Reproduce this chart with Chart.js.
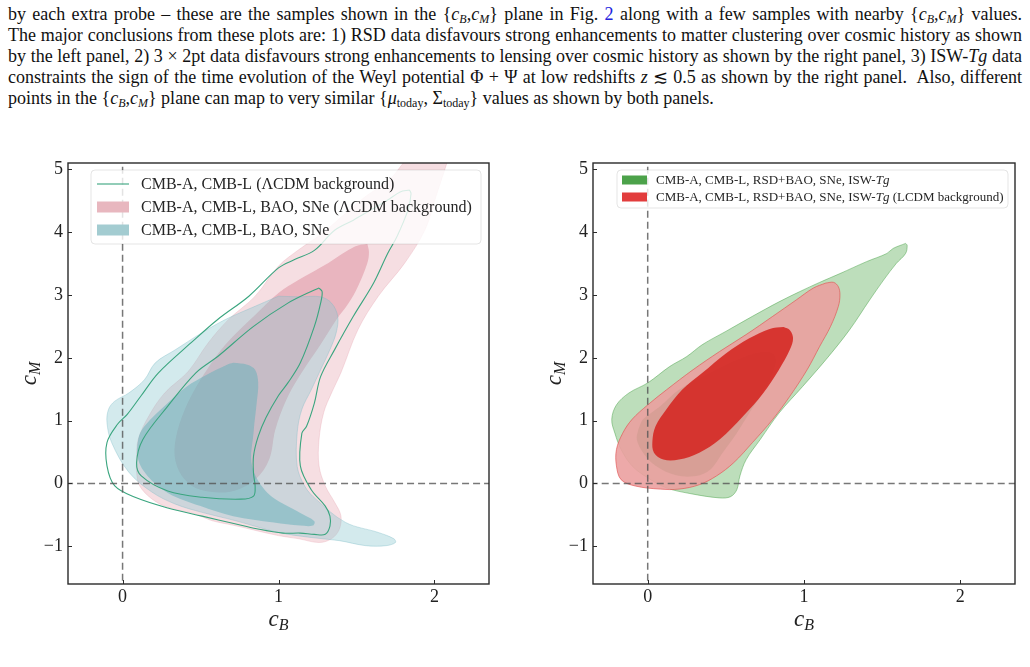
<!DOCTYPE html>
<html>
<head>
<meta charset="utf-8">
<script src="https://cdn.jsdelivr.net/npm/chart.js@4.4.0/dist/chart.umd.min.js"></script>
<style>
  body { margin: 0; width: 1030px; height: 667px; overflow: hidden; position: relative; background: #fff; }
  #para { position: absolute; left: 8px; top: 4px; width: 1014px; font-family: "Liberation Serif", serif; font-size: 18px; line-height: 21px; color: #111; }
  #para div { text-align: justify; text-align-last: justify; white-space: nowrap; }
  #para div.last { text-align-last: left; }
  #para sub { font-size: 12px; vertical-align: -3px; line-height: 0; }
  #para .ref { color: #2222dd; }
  .panel { position: absolute; top: 140px; height: 520px; }
  .panel canvas { display: block; }
</style>
</head>
<body>
<div id="para">
  <div>by each extra probe – these are the samples shown in the {<i>c<sub>B</sub></i>,<i>c<sub>M</sub></i>} plane in Fig. <span class="ref">2</span> along with a few samples with nearby {<i>c<sub>B</sub></i>,<i>c<sub>M</sub></i>} values.</div>
  <div>The major conclusions from these plots are: 1) RSD data disfavours strong enhancements to matter clustering over cosmic history as shown</div>
  <div>by the left panel, 2) 3 × 2pt data disfavours strong enhancements to lensing over cosmic history as shown by the right panel, 3) ISW-<i>Tg</i> data</div>
  <div>constraints the sign of the time evolution of the Weyl potential Φ + Ψ at low redshifts <i>z</i> ≲ 0.5 as shown by the right panel.&nbsp; Also, different</div>
  <div class="last">points in the {<i>c<sub>B</sub></i>,<i>c<sub>M</sub></i>} plane can map to very similar {<i>μ</i><sub>today</sub>, Σ<sub>today</sub>} values as shown by both panels.</div>
</div>
<div class="panel" style="left:0;width:515px"><canvas id="left" width="515" height="520"></canvas></div>
<div class="panel" style="left:520px;width:510px"><canvas id="right" width="510" height="520"></canvas></div>
<script>
// axis ranges and ticks (same for both panels)
const xRange = [-0.35, 2.35];
const yRange = [-1.6, 5.1];
const xTicks = [0, 1, 2];
const yTicks = [-1, 0, 1, 2, 3, 4, 5];
const refX = [0];   // dashed vertical guide
const refY = [0];   // dashed horizontal guide

// ---- left panel contours, [cB, cM] ----
const pinkOuter = [[2.03,5.8],[2.17,5.8],[2.08,5.10],[2.01,4.57],[1.94,4.04],[1.81,3.51],[1.64,2.98],[1.51,2.45],[1.40,1.76],[1.34,1.44],[1.29,1.13],[1.26,0.70],[1.26,0.28],[1.30,-0.04],[1.36,-0.30],[1.40,-0.51],[1.39,-0.73],[1.34,-0.88],[1.26,-0.94],[1.13,-0.88],[1.00,-0.83],[0.72,-0.67],[0.57,-0.59],[0.47,-0.49],[0.29,-0.38],[0.19,-0.25],[0.11,-0.04],[0.09,0.18],[0.09,0.39],[0.10,0.70],[0.17,1.08],[0.27,1.44],[0.42,1.78],[0.55,2.24],[0.68,2.61],[0.85,2.98],[1.00,3.46],[1.13,3.72],[1.28,3.98],[1.43,4.30],[1.56,4.57],[1.71,4.83],[1.80,5.10],[2.03,5.8]];
const pinkInner = [[1.57,3.81],[1.58,3.68],[1.57,3.51],[1.51,3.14],[1.45,2.87],[1.37,2.60],[1.27,2.21],[1.14,1.73],[1.05,1.33],[0.98,0.86],[0.94,0.38],[0.85,0.06],[0.69,-0.13],[0.50,-0.10],[0.40,0.06],[0.34,0.35],[0.34,0.70],[0.40,1.18],[0.50,1.65],[0.66,2.21],[0.85,2.68],[1.00,3.03],[1.13,3.24],[1.32,3.51],[1.49,3.77],[1.57,3.81]];
const tealOuter = [[1.00,2.98],[1.14,2.97],[1.27,2.97],[1.34,2.87],[1.38,2.66],[1.37,2.40],[1.33,2.13],[1.27,1.81],[1.21,1.49],[1.15,1.18],[1.12,0.81],[1.12,0.27],[1.17,-0.05],[1.24,-0.25],[1.43,-0.62],[1.64,-0.78],[1.74,-0.88],[1.75,-0.94],[1.69,-0.99],[1.56,-0.99],[1.39,-0.91],[1.21,-0.86],[1.00,-0.78],[0.72,-0.59],[0.51,-0.46],[0.34,-0.33],[0.19,-0.14],[0.04,0.18],[-0.07,0.65],[-0.10,0.97],[-0.09,1.18],[-0.05,1.31],[0.04,1.44],[0.14,1.65],[0.21,1.92],[0.34,2.13],[0.51,2.40],[0.66,2.61],[0.85,2.82],[1.00,2.98]];
const tealInner = [[0.71,1.92],[0.80,1.89],[0.85,1.81],[0.87,1.60],[0.86,1.28],[0.84,0.81],[0.83,0.28],[0.93,-0.15],[1.14,-0.47],[1.23,-0.60],[1.22,-0.67],[1.14,-0.67],[0.97,-0.62],[0.71,-0.52],[0.50,-0.36],[0.29,-0.15],[0.16,0.12],[0.10,0.38],[0.10,0.70],[0.14,0.91],[0.29,1.28],[0.41,1.54],[0.54,1.73],[0.67,1.89],[0.71,1.92]];
const lineOuter = [[1.84,4.67],[1.85,4.61],[1.83,4.35],[1.76,3.93],[1.70,3.66],[1.61,3.19],[1.48,2.66],[1.36,2.13],[1.27,1.70],[1.23,1.28],[1.18,0.91],[1.15,0.80],[1.14,0.28],[1.21,-0.10],[1.30,-0.36],[1.33,-0.52],[1.33,-0.68],[1.30,-0.81],[1.23,-0.81],[1.14,-0.79],[1.03,-0.79],[0.86,-0.72],[0.72,-0.64],[0.51,-0.52],[0.29,-0.39],[0.08,-0.22],[-0.05,-0.04],[-0.10,0.28],[-0.10,0.65],[-0.03,0.95],[0.03,1.10],[0.12,1.40],[0.23,1.76],[0.44,2.24],[0.61,2.61],[0.81,2.98],[1.00,3.43],[1.10,3.56],[1.23,3.71],[1.36,4.03],[1.48,4.19],[1.59,4.35],[1.70,4.51],[1.78,4.64],[1.84,4.67]];
const lineInner = [[1.26,3.11],[1.28,3.05],[1.27,2.87],[1.23,2.50],[1.14,1.92],[1.06,1.60],[1.00,1.40],[0.92,1.05],[0.87,0.75],[0.84,0.44],[0.84,0.15],[0.85,-0.04],[0.84,-0.20],[0.76,-0.25],[0.51,-0.22],[0.29,-0.12],[0.12,0.12],[0.09,0.33],[0.13,0.70],[0.29,1.23],[0.47,1.76],[0.61,2.02],[0.84,2.50],[1.06,2.87],[1.23,3.08],[1.26,3.11]];

// ---- right panel contours ----
const greenOuter = [[1.65,3.82],[1.57,3.74],[1.53,3.66],[1.40,3.53],[1.23,3.34],[1.10,3.20],[0.97,3.05],[0.84,2.89],[0.67,2.66],[0.50,2.42],[0.35,2.21],[0.25,2.02],[0.14,1.86],[0.00,1.60],[-0.12,1.44],[-0.20,1.25],[-0.23,1.02],[-0.21,0.80],[-0.17,0.54],[-0.10,0.28],[0.00,0.09],[0.12,-0.07],[0.27,-0.16],[0.46,-0.23],[0.53,-0.21],[0.57,-0.10],[0.59,0.12],[0.63,0.38],[0.72,0.70],[0.84,1.12],[0.99,1.54],[1.14,1.97],[1.29,2.44],[1.42,2.92],[1.51,3.24],[1.59,3.50],[1.65,3.66],[1.66,3.79],[1.65,3.82]];
const greenInner = [[-0.06,0.86],[-0.03,1.02],[0.08,1.23],[0.20,1.49],[0.40,1.76],[0.57,1.97],[0.72,2.09],[0.80,2.07],[0.82,1.92],[0.76,1.55],[0.65,1.12],[0.57,0.80],[0.48,0.49],[0.40,0.22],[0.31,0.12],[0.18,0.13],[0.05,0.28],[-0.03,0.49],[-0.07,0.70],[-0.06,0.86]];
const redOuter = [[1.14,3.19],[1.19,3.20],[1.22,3.13],[1.23,3.00],[1.22,2.82],[1.17,2.50],[1.10,2.18],[1.02,1.81],[0.91,1.39],[0.80,1.02],[0.67,0.65],[0.55,0.33],[0.44,0.12],[0.33,-0.02],[0.20,-0.09],[0.08,-0.09],[-0.08,-0.04],[-0.17,0.06],[-0.20,0.28],[-0.20,0.54],[-0.16,0.80],[-0.10,1.02],[0.00,1.25],[0.12,1.49],[0.29,1.81],[0.46,2.10],[0.63,2.37],[0.80,2.66],[0.95,2.92],[1.06,3.11],[1.14,3.19]];
const redInner = [[0.87,2.49],[0.91,2.44],[0.93,2.31],[0.91,2.13],[0.84,1.81],[0.74,1.44],[0.61,1.07],[0.46,0.70],[0.33,0.49],[0.20,0.38],[0.10,0.38],[0.04,0.49],[0.03,0.67],[0.05,0.91],[0.12,1.18],[0.22,1.49],[0.35,1.76],[0.50,2.07],[0.65,2.31],[0.78,2.46],[0.87,2.49]];

// legend texts, *...* is set in italics
const leftLabels = ['CMB-A, CMB-L (ΛCDM background)', 'CMB-A, CMB-L, BAO, SNe (ΛCDM background)', 'CMB-A, CMB-L, BAO, SNe'];
const rightLabels = ['CMB-A, CMB-L, RSD+BAO, SNe, ISW-*Tg*', 'CMB-A, CMB-L, RSD+BAO, SNe, ISW-*Tg* (LCDM background)'];

const SERIF = '"Liberation Serif", "DejaVu Serif", serif';

function pts(arr) {
  return arr.map(p => ({x: p[0], y: p[1]}));
}

function area(arr, fillColor, edge, edgeWidth) {
  return {data: pts(arr), fill: 'shape', backgroundColor: fillColor, borderColor: edge || 'rgba(0,0,0,0)',
    borderWidth: edgeWidth || 0, pointRadius: 0, tension: 0.35, capBezierPoints: false};
}

function outline(arr, color) {
  return {data: pts(arr), fill: false, borderColor: color, borderWidth: 1.1, pointRadius: 0, tension: 0.35, capBezierPoints: false};
}

function guides() {
  const ds = [];
  refX.forEach(v => ds.push({data: [{x: v, y: yRange[0] - 1}, {x: v, y: yRange[1] + 1}]}));
  refY.forEach(v => ds.push({data: [{x: xRange[0] - 1, y: v}, {x: xRange[1] + 1, y: v}]}));
  return ds.map(d => Object.assign(d, {fill: false, borderColor: 'rgba(85,85,85,0.8)', borderWidth: 1.5,
    borderDash: [7, 4], pointRadius: 0, tension: 0}));
}

function drawRich(ctx, text, x, y, size) {
  // plain / italic runs split on '*'
  text.split('*').forEach((run, i) => {
    ctx.font = (i % 2 ? 'italic ' : '') + size + 'px ' + SERIF;
    ctx.fillText(run, x, y);
    x += ctx.measureText(run).width;
  });
}

function mathLabel(ctx, x, y, base, sub, rot) {
  ctx.save();
  ctx.translate(x, y);
  ctx.rotate(rot);
  ctx.fillStyle = '#222';
  ctx.textBaseline = 'alphabetic';
  ctx.font = 'italic 23px ' + SERIF;
  const w1 = ctx.measureText(base).width;
  ctx.font = 'italic 16px ' + SERIF;
  const w2 = ctx.measureText(sub).width;
  ctx.font = 'italic 23px ' + SERIF;
  ctx.fillText(base, -(w1 + w2) / 2, 0);
  ctx.font = 'italic 16px ' + SERIF;
  ctx.fillText(sub, -(w1 + w2) / 2 + w1, 4);
  ctx.restore();
}

// frame, inward ticks, axis titles and the in-axes legend
const decor = {
  id: 'decor',
  afterDatasetsDraw(chart, args, opts) {
    const {ctx, chartArea: a, scales: {x, y}} = chart;
    ctx.save();
    ctx.strokeStyle = '#2a2a2a';
    ctx.lineWidth = 1;
    ctx.beginPath();
    x.ticks.forEach(t => {
      const px = Math.round(x.getPixelForValue(t.value)) + 0.5;
      ctx.moveTo(px, a.bottom); ctx.lineTo(px, a.bottom - 4);
    });
    y.ticks.forEach(t => {
      const py = Math.round(y.getPixelForValue(t.value)) + 0.5;
      ctx.moveTo(a.left, py); ctx.lineTo(a.left + 4, py);
    });
    ctx.stroke();
    ctx.lineWidth = 1.4;
    ctx.strokeRect(a.left, a.top, a.right - a.left, a.bottom - a.top);

    // legend box
    const L = opts.legend;
    const bx = a.left + L.x, by = a.top + L.y;
    ctx.beginPath();
    ctx.roundRect(bx, by, L.w, L.h, 4);
    ctx.fillStyle = 'rgba(255,255,255,0.8)';
    ctx.fill();
    ctx.strokeStyle = 'rgba(0,0,0,0.1)';
    ctx.lineWidth = 1;
    ctx.stroke();
    ctx.textBaseline = 'middle';
    L.items.forEach((it, i) => {
      const cy = by + L.row0 + i * L.rowGap;
      if (it.kind === 'line') {
        ctx.strokeStyle = it.color;
        ctx.lineWidth = 1.1;
        ctx.beginPath();
        ctx.moveTo(bx + L.sx0, cy); ctx.lineTo(bx + L.sx1, cy);
        ctx.stroke();
      } else {
        ctx.fillStyle = it.color;
        ctx.fillRect(bx + L.sx0, cy - L.ph / 2, L.sx1 - L.sx0, L.ph);
      }
      ctx.fillStyle = '#262626';
      drawRich(ctx, it.label, bx + L.tx, cy + 1, L.size);
    });

    // axis titles
    mathLabel(ctx, (a.left + a.right) / 2, a.bottom + 42, 'c', 'B', 0);
    mathLabel(ctx, a.left - 32, (a.top + a.bottom) / 2, 'c', 'M', -Math.PI / 2);
    ctx.restore();
  }
};

function fmt(v) {
  return v < 0 ? '\u2212' + Math.abs(v) : String(v);
}

function makeChart(id, datasets, legend, padRight, yWidth) {
  datasets.forEach((d, i) => { d.order = datasets.length - i; });
  const tickFont = {family: SERIF, size: 18};
  return new Chart(document.getElementById(id), {
    type: 'line',
    data: {datasets: datasets},
    options: {
      responsive: false,
      animation: false,
      events: [],
      layout: {padding: {top: 23, right: padRight, left: 0, bottom: 0}},
      plugins: {legend: {display: false}, tooltip: {enabled: false}, decor: {legend: legend}},
      scales: {
        x: {
          type: 'linear', min: xRange[0], max: xRange[1],
          afterBuildTicks: s => { s.ticks = xTicks.map(v => ({value: v})); },
          ticks: {padding: 2, color: '#222', font: tickFont, callback: fmt},
          grid: {display: false, drawTicks: false},
          border: {display: false},
          afterFit: s => { s.height = 76; }
        },
        y: {
          type: 'linear', min: yRange[0], max: yRange[1],
          afterBuildTicks: s => { s.ticks = yTicks.map(v => ({value: v})); },
          ticks: {padding: 5, color: '#222', font: tickFont, callback: fmt},
          grid: {display: false, drawTicks: false},
          border: {display: false},
          afterFit: s => { s.width = yWidth; }
        }
      }
    },
    plugins: [decor]
  });
}

const lineGreen = '#3aa57f';

makeChart('left', [
  area(pinkOuter, 'rgba(230,160,172,0.35)', 'rgba(225,150,165,0.35)', 0.8),
  area(pinkInner, 'rgba(220,140,155,0.5)'),
  area(tealOuter, 'rgba(140,200,208,0.38)', 'rgba(120,185,195,0.45)', 0.8),
  area(tealInner, 'rgba(100,175,185,0.5)'),
  outline(lineOuter, lineGreen),
  outline(lineInner, lineGreen),
  ...guides()
], {
  x: 23, y: 7, w: 390, h: 74, row0: 14, rowGap: 23, sx0: 6, sx1: 38, ph: 11, tx: 50, size: 16,
  items: [
    {kind: 'line', color: lineGreen, label: leftLabels[0]},
    {kind: 'patch', color: '#e8b7bf', label: leftLabels[1]},
    {kind: 'patch', color: '#a3ccd1', label: leftLabels[2]}
  ]
}, 26, 68);

makeChart('right', [
  area(greenOuter, 'rgba(76,165,70,0.37)', 'rgba(70,160,70,0.6)', 0.8),
  area(greenInner, 'rgba(40,150,60,0.9)'),
  area(redOuter, 'rgba(235,160,160,0.9)', 'rgba(225,80,80,0.8)', 0.8),
  area(redInner, 'rgba(212,32,28,0.84)'),
  ...guides()
], {
  x: 24, y: 7, w: 391, h: 38, row0: 10, rowGap: 17, sx0: 5, sx1: 30, ph: 9, tx: 39, size: 13,
  items: [
    {kind: 'patch', color: '#4ca24a', label: rightLabels[0]},
    {kind: 'patch', color: '#e23d3d', label: rightLabels[1]}
  ]
}, 15, 73);
</script>
</body>
</html>
